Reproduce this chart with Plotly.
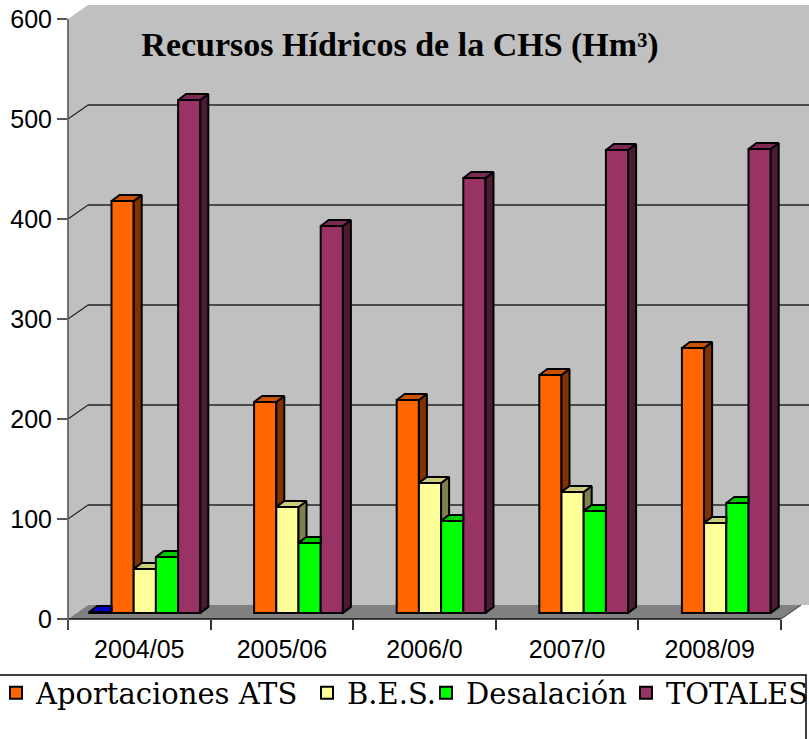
import plotly.graph_objects as go

# ---------------- data ----------------
categories = ["2004/05", "2005/06", "2006/0", "2007/0", "2008/09"]
serie_sin_leyenda = [1, None, None, None, None]      # tiny blue bar, not in legend
aportaciones_ats = [412, 211, 213, 238, 265]
bes = [44, 106, 130, 121, 90]
desalacion = [56, 70, 92, 102, 110]
totales = [513, 387, 435, 463, 464]
y_tick_values = [0, 100, 200, 300, 400, 500, 600]
series_names = ["Serie 1", "Aportaciones ATS", "B.E.S.", "Desalación", "TOTALES"]
title_text = "<b>Recursos Hídricos de la CHS (Hm³)</b>"

# ---------------- styles ----------------
FRONT = ["#0000FF", "#FF6600", "#FFFF99", "#00FF00", "#993366"]
TOP = ["#0000CC", "#CC5200", "#CCCC7A", "#00CC00", "#7A2952"]
SIDE = ["#000080", "#803300", "#80804D", "#008000", "#4D1A33"]
LEGEND_ID = [None, "legend", "legend2", "legend3", "legend4"]
LEGEND_SQUARE_PX = [None, 15, 326, 445, 645]        # centre of each legend swatch

W, H = 809, 739
PL, PR, PT, PB = 68, 809, 5, 619          # plot area in pixels
PW, PH = PR - PL, PB - PT
CAT_PX = 142.6                            # pixels per category
BAR_SHIFT_PX, BAR_DROP_PX = 5.5, 6        # bar plane depth offset
BACK_DX, BACK_DY = 20, 14                 # back wall depth offset
FACE_DX, FACE_DY = 8 / CAT_PX, 6          # bar depth (x in category units, y in value units)
GROUP = 0.7784
BW = GROUP / 5

series_values = [serie_sin_leyenda, aportaciones_ats, bes, desalacion, totales]


def xp(px):
    return (px - PL) / PW


def y_front(v):
    return v / PH


def y_back(v):
    return (v + BACK_DY) / PH


fig = go.Figure()

# front faces: bars
for k, vals in enumerate(series_values):
    kw = dict(showlegend=False) if LEGEND_ID[k] is None else dict(showlegend=True, legend=LEGEND_ID[k])
    fig.add_trace(go.Bar(
        x=list(range(len(categories))), y=vals, name=series_names[k],
        width=BW, offset=-GROUP / 2 + k * BW,
        marker=dict(color=FRONT[k], line=dict(color="black", width=2)),
        hoverinfo="skip", **kw,
    ))

# 3D faces derived from the same values
for k, vals in enumerate(series_values):
    sx, sy, tx, ty = [], [], [], []
    for i, v in enumerate(vals):
        if v is None:
            continue
        xl = i - GROUP / 2 + k * BW
        xr = xl + BW
        nxt = series_values[k + 1][i] if k + 1 < len(series_values) else None
        vn = nxt if nxt is not None else 0
        if vn < v:   # visible part of the side face
            sx += [xr, xr, xr + FACE_DX, xr + FACE_DX, xr, None]
            sy += [vn, v, v + FACE_DY, vn + FACE_DY, vn, None]
        if nxt is not None and nxt > v:   # top face hidden behind a taller neighbour
            tx += [xl, xr, xr, xl + FACE_DX, xl, None]
            ty += [v, v, v + FACE_DY, v + FACE_DY, v, None]
        else:
            tx += [xl, xr, xr + FACE_DX, xl + FACE_DX, xl, None]
            ty += [v, v, v + FACE_DY, v + FACE_DY, v, None]
    if sx:
        fig.add_trace(go.Scatter(x=sx, y=sy, mode="lines", fill="toself",
                                 fillcolor=SIDE[k], line=dict(color="black", width=2),
                                 showlegend=False, hoverinfo="skip"))
    fig.add_trace(go.Scatter(x=tx, y=ty, mode="lines", fill="toself",
                             fillcolor=TOP[k], line=dict(color="black", width=2),
                             showlegend=False, hoverinfo="skip"))

# dummy trace for the front (label) axes
fig.add_trace(go.Scatter(x=[None], y=[None], xaxis="x2", yaxis="y2",
                         showlegend=False, hoverinfo="skip"))

shapes = []
shapes.append(dict(type="rect", xref="paper", yref="paper", layer="below",
                   x0=xp(PL + BACK_DX), x1=1, y0=y_back(0), y1=y_back(600),
                   fillcolor="#C0C0C0", line=dict(width=0)))
shapes.append(dict(type="path", xref="paper", yref="paper", layer="below",
                   path=f"M0,{y_front(0)} L0,{y_front(600)} L{xp(PL + BACK_DX)},{y_back(600)} "
                        f"L{xp(PL + BACK_DX)},{y_back(0)} Z",
                   fillcolor="#C0C0C0", line=dict(width=0)))
x_front_end = xp(PL + CAT_PX * len(categories))
x_back_end = xp(PL + CAT_PX * len(categories) + BACK_DX)
shapes.append(dict(type="path", xref="paper", yref="paper", layer="below",
                   path=f"M0,{y_front(0)} L{x_front_end},{y_front(0)} L{x_back_end},{y_back(0)} "
                        f"L{xp(PL + BACK_DX)},{y_back(0)} Z",
                   fillcolor="#808080", line=dict(width=0)))
for v in y_tick_values[1:-1]:
    shapes.append(dict(type="line", xref="paper", yref="paper", layer="below",
                       x0=xp(PL + BACK_DX), x1=1, y0=y_back(v), y1=y_back(v),
                       line=dict(color="#4A4A4A", width=2)))
    shapes.append(dict(type="line", xref="paper", yref="paper", layer="below",
                       x0=0, x1=xp(PL + BACK_DX), y0=y_front(v), y1=y_back(v),
                       line=dict(color="#222222", width=1.2)))
shapes.append(dict(type="line", xref="paper", yref="paper", layer="below",
                   x0=x_front_end, x1=x_back_end, y0=y_front(0), y1=y_back(0),
                   line=dict(color="#555555", width=1.2)))
shapes.append(dict(type="line", xref="paper", yref="paper", layer="above",
                   x0=0, x1=x_front_end, y0=y_front(0), y1=y_front(0),
                   line=dict(color="#111111", width=1.6)))
shapes.append(dict(type="line", xref="paper", yref="paper", layer="above",
                   x0=0, x1=0, y0=y_front(-10), y1=y_front(600),
                   line=dict(color="#555555", width=1.6)))
shapes.append(dict(type="rect", xref="paper", yref="paper", layer="above",
                   x0=xp(-2), x1=xp(806), y0=y_front(PB - 760), y1=y_front(PB - 675),
                   line=dict(color="black", width=1.5), fillcolor="rgba(0,0,0,0)"))

legend_font = dict(family="DejaVu Serif", size=29, color="black")
legends = {}
for k in range(1, 5):
    legends[LEGEND_ID[k]] = dict(
        orientation="h", x=xp(LEGEND_SQUARE_PX[k] - 19), xanchor="left",
        y=y_front(PB - 693), yanchor="middle", font=legend_font,
        bgcolor="rgba(0,0,0,0)", borderwidth=0, itemwidth=30)

fig.update_layout(
    width=W, height=H,
    margin=dict(l=PL, r=W - PR, t=PT, b=H - PB, pad=0, autoexpand=False),
    paper_bgcolor="white", plot_bgcolor="white",
    barmode="overlay",
    shapes=shapes,
    showlegend=True,
    title=dict(text=title_text, x=400 / W, xanchor="center",
               y=1 - 44 / H, yanchor="middle",
               font=dict(family="Liberation Serif", size=34, color="black")),
    xaxis=dict(range=[-BAR_SHIFT_PX / CAT_PX - 0.5, (PW - BAR_SHIFT_PX) / CAT_PX - 0.5],
               visible=False, fixedrange=True),
    yaxis=dict(range=[-BAR_DROP_PX, PH - BAR_DROP_PX], visible=False, fixedrange=True),
    xaxis2=dict(range=[-0.5, PW / CAT_PX - 0.5], overlaying="x", anchor="y2", side="bottom",
                tickmode="array", tickvals=list(range(len(categories))), ticktext=categories,
                ticks="", showgrid=False, zeroline=False, showline=False,
                ticklabelstandoff=13, fixedrange=True,
                tickfont=dict(family="Liberation Sans", size=25, color="black"),
                minor=dict(tickmode="array",
                           tickvals=[i - 0.5 for i in range(len(categories) + 1)],
                           ticks="outside", ticklen=10, tickwidth=1.5, tickcolor="#333333",
                           showgrid=False)),
    yaxis2=dict(range=[0, PH], overlaying="y", anchor="x2", side="left",
                tickmode="array", tickvals=y_tick_values,
                ticktext=[str(v) for v in y_tick_values],
                ticks="outside", ticklen=10, tickwidth=1.5, tickcolor="#555555",
                showgrid=False, zeroline=False, showline=False,
                ticklabelstandoff=0, fixedrange=True,
                tickfont=dict(family="Liberation Sans", size=25, color="black")),
    **legends,
)

fig.write_html("out.html",
               config={"displayModeBar": False},
               post_script="document.body.style.margin='0px';document.body.style.overflow='hidden';")
